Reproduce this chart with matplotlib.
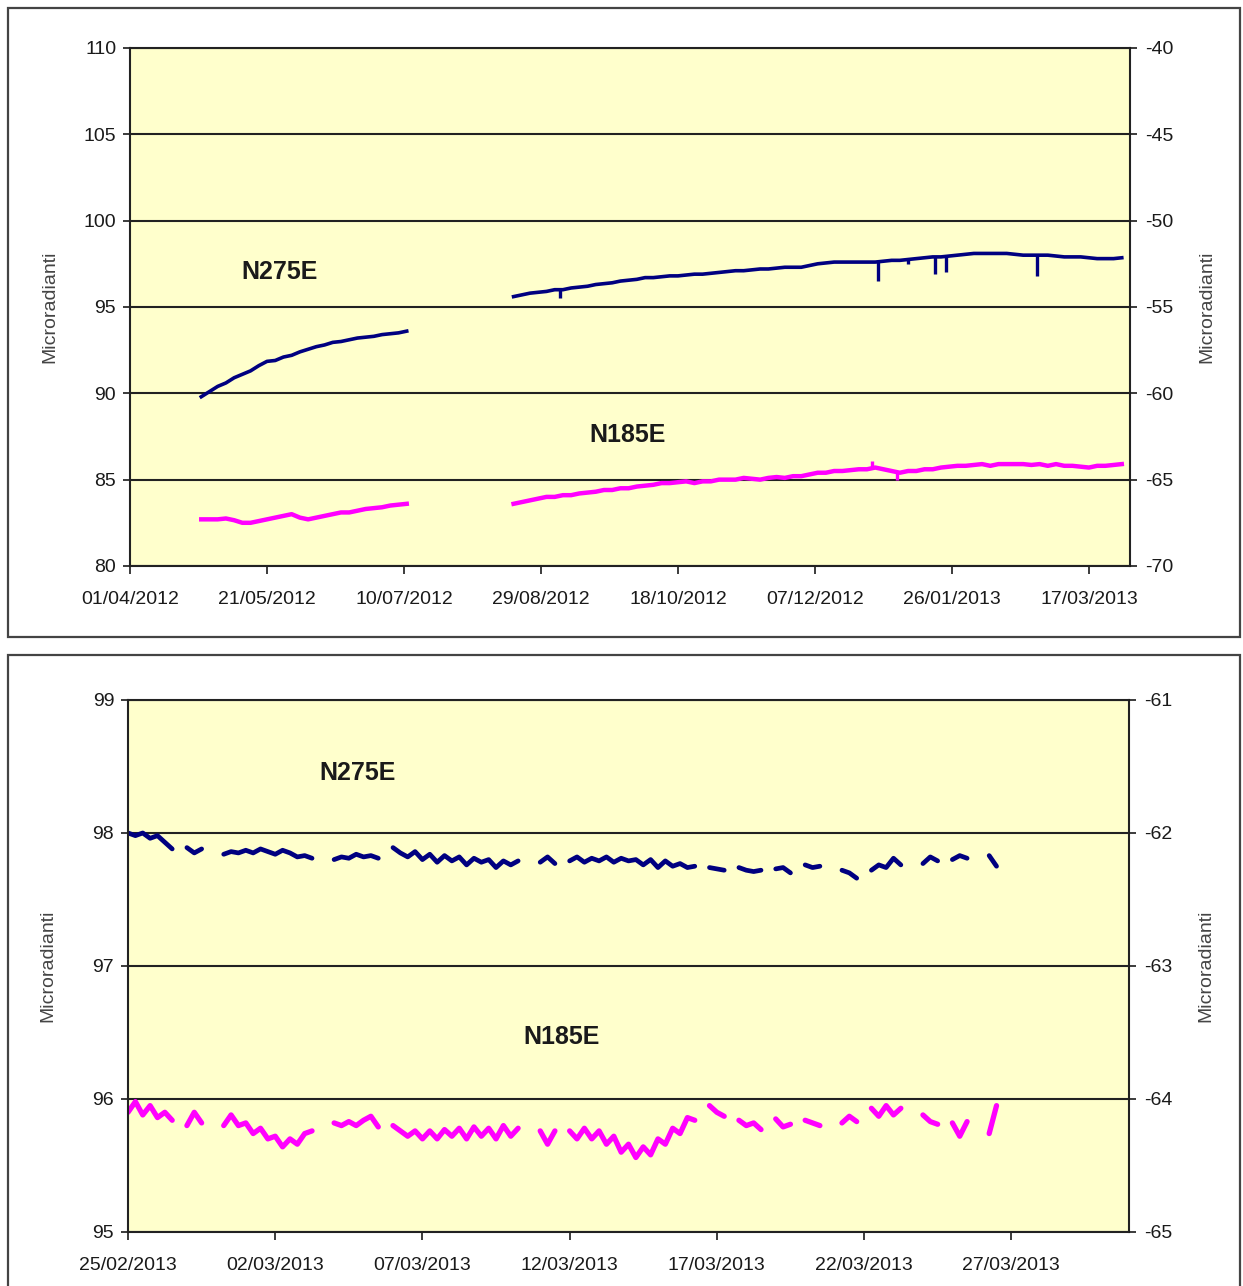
import matplotlib
matplotlib.use("Agg")

import matplotlib.pyplot as plt
import matplotlib.dates as mdates
import numpy as np
import pandas as pd
from matplotlib.patches import Rectangle

plt.rcParams["font.family"] = ["Liberation Sans", "DejaVu Sans"]
plt.rcParams["axes.unicode_minus"] = False

nan = np.nan

# ---- top panel: 01/04/2012 - 01/04/2013, one reading every 3 days ----
top_start = "2012-04-27"
top_n275e = [
    89.8, 90.1, 90.4, 90.6, 90.9, 91.1, 91.3, 91.6, 91.85, 91.9,
    92.1, 92.2, 92.4, 92.55, 92.7, 92.8, 92.95, 93.0, 93.1, 93.2,
    93.25, 93.3, 93.4, 93.45, 93.5, 93.6,
    nan, nan, nan, nan, nan, nan, nan, nan, nan, nan, nan, nan,
    95.6, 95.7, 95.8, 95.85, 95.9, 96.0, 96.0, 96.1, 96.15, 96.2,
    96.3, 96.35, 96.4, 96.5, 96.55, 96.6, 96.7, 96.7, 96.75, 96.8,
    96.8, 96.85, 96.9, 96.9, 96.95, 97.0, 97.05, 97.1, 97.1, 97.15,
    97.2, 97.2, 97.25, 97.3, 97.3, 97.3, 97.4, 97.5, 97.55, 97.6,
    97.6, 97.6, 97.6, 97.6, 97.6, 97.65, 97.7, 97.7, 97.75, 97.8,
    97.85, 97.9, 97.9, 97.95, 98.0, 98.05, 98.1, 98.1, 98.1, 98.1,
    98.1, 98.05, 98.0, 98.0, 98.0, 98.0, 97.95, 97.9, 97.9, 97.9,
    97.85, 97.8, 97.8, 97.8, 97.85,
]
top_n185e = [
    82.7, 82.7, 82.7, 82.75, 82.65, 82.5, 82.5, 82.6, 82.7, 82.8,
    82.9, 83.0, 82.8, 82.7, 82.8, 82.9, 83.0, 83.1, 83.1, 83.2,
    83.3, 83.35, 83.4, 83.5, 83.55, 83.6,
    nan, nan, nan, nan, nan, nan, nan, nan, nan, nan, nan, nan,
    83.6, 83.7, 83.8, 83.9, 84.0, 84.0, 84.1, 84.1, 84.2, 84.25,
    84.3, 84.4, 84.4, 84.5, 84.5, 84.6, 84.65, 84.7, 84.8, 84.8,
    84.85, 84.9, 84.8, 84.9, 84.9, 85.0, 85.0, 85.0, 85.1, 85.05,
    85.0, 85.1, 85.15, 85.1, 85.2, 85.2, 85.3, 85.4, 85.4, 85.5,
    85.5, 85.55, 85.6, 85.6, 85.7, 85.6, 85.5, 85.4, 85.5, 85.5,
    85.6, 85.6, 85.7, 85.75, 85.8, 85.8, 85.85, 85.9, 85.8, 85.9,
    85.9, 85.9, 85.9, 85.85, 85.9, 85.8, 85.9, 85.8, 85.8, 85.75,
    85.7, 85.8, 85.8, 85.85, 85.9,
]
top_spike_dates = ["2012-09-05", "2012-12-30", "2013-01-10", "2013-01-20", "2013-01-24", "2013-02-26"]
top_spike_low = [95.5, 96.5, 97.5, 96.9, 97.0, 96.8]
top_spike_high = [96.0, 97.6, 97.8, 97.9, 97.9, 98.0]
mag_spike_dates = ["2012-12-28", "2013-01-06"]
mag_spike_low = [85.6, 85.0]
mag_spike_high = [86.1, 85.5]
top_ticks = ["01/04/2012", "21/05/2012", "10/07/2012", "29/08/2012",
             "18/10/2012", "07/12/2012", "26/01/2013", "17/03/2013"]

# ---- bottom panel: 25/02/2013 - 31/03/2013, one reading every 6 hours ----
bot_start = "2013-02-25"
bot_n275e = [
    98.00, 97.98, 98.00, 97.96, 97.98, 97.93, 97.88,
    nan,
    97.89, 97.85, 97.88,
    nan, nan,
    97.84, 97.86, 97.85, 97.87, 97.85, 97.88, 97.86, 97.84, 97.87, 97.85, 97.82, 97.83, 97.81,
    nan, nan,
    97.80, 97.82, 97.81, 97.84, 97.82, 97.83, 97.81,
    nan,
    97.89, 97.85, 97.82, 97.86, 97.80, 97.84, 97.78, 97.83, 97.79,
    97.82, 97.76, 97.81, 97.78, 97.80, 97.74, 97.79, 97.76, 97.79,
    nan, nan,
    97.78, 97.82, 97.77,
    nan,
    97.79, 97.82, 97.78, 97.81, 97.79, 97.82, 97.78, 97.81, 97.79,
    97.80, 97.76, 97.80, 97.74, 97.79, 97.75, 97.77, 97.74, 97.75,
    nan,
    97.74, 97.73, 97.72,
    nan,
    97.74, 97.72, 97.71, 97.72,
    nan,
    97.73, 97.74, 97.70,
    nan,
    97.76, 97.74, 97.75,
    nan, nan,
    97.72, 97.70, 97.66,
    nan,
    97.72, 97.76, 97.74, 97.81, 97.76,
    nan, nan,
    97.77, 97.82, 97.79,
    nan,
    97.80, 97.83, 97.81,
    nan, nan,
    97.83, 97.75,
]
bot_n185e = [
    95.90, 95.98, 95.88, 95.95, 95.86, 95.90, 95.84,
    nan,
    95.80, 95.90, 95.82,
    nan, nan,
    95.80, 95.88, 95.80, 95.82, 95.74, 95.78, 95.70, 95.72, 95.64, 95.70, 95.66, 95.74, 95.76,
    nan, nan,
    95.82, 95.80, 95.83, 95.80, 95.84, 95.87, 95.79,
    nan,
    95.80, 95.76, 95.72, 95.76, 95.70, 95.76, 95.70, 95.77, 95.72,
    95.78, 95.70, 95.79, 95.72, 95.78, 95.70, 95.80, 95.72, 95.78,
    nan, nan,
    95.76, 95.66, 95.76,
    nan,
    95.76, 95.70, 95.78, 95.70, 95.76, 95.66, 95.72, 95.60, 95.66,
    95.56, 95.64, 95.58, 95.70, 95.66, 95.78, 95.74, 95.86, 95.84,
    nan,
    95.95, 95.90, 95.87,
    nan,
    95.84, 95.80, 95.82, 95.77,
    nan,
    95.85, 95.79, 95.81,
    nan,
    95.84, 95.82, 95.80,
    nan, nan,
    95.82, 95.87, 95.83,
    nan,
    95.93, 95.87, 95.95, 95.88, 95.93,
    nan, nan,
    95.88, 95.83, 95.81,
    nan,
    95.82, 95.72, 95.83,
    nan, nan,
    95.74, 95.95,
]
bot_ticks = ["25/02/2013", "02/03/2013", "07/03/2013", "12/03/2013",
             "17/03/2013", "22/03/2013", "27/03/2013"]

NAVY = "#000080"
MAGENTA = "#FF00FF"
PLOT_BG = "#FFFFCC"
TXT = "#1a1a1a"


def style_panel(ax, ylim, yticks, ylim2, xlim, ticks):
    ax.set_facecolor(PLOT_BG)
    ax.set_xlim(pd.to_datetime(xlim[0]), pd.to_datetime(xlim[1]))
    ax.set_ylim(*ylim)
    ax.set_yticks(yticks)
    ax.set_xticks(pd.to_datetime(ticks, format="%d/%m/%Y"))
    ax.xaxis.set_major_formatter(mdates.DateFormatter("%d/%m/%Y"))
    ax.yaxis.grid(True, color="#222222", linewidth=1.5)
    ax.set_axisbelow(True)
    for side in ("left", "right", "bottom", "top"):
        ax.spines[side].set_color("#222222")
        ax.spines[side].set_linewidth(1.5)
    ax.tick_params(axis="y", length=5, width=1.2, pad=5, labelsize=14, colors=TXT)
    ax.tick_params(axis="x", length=6, width=1.2, pad=12, labelsize=14, colors=TXT)
    ax.set_ylabel("Microradianti", fontsize=14, color="#444444")
    # same label position in both panels, whatever the tick label widths
    ax.yaxis.set_label_coords(-0.072, 0.5)

    ax2 = ax.twinx()
    ax2.set_ylim(*ylim2)
    ax2.set_yticks(np.linspace(ylim2[0], ylim2[1], len(yticks)))
    ax2.yaxis.set_major_formatter(matplotlib.ticker.FormatStrFormatter("%d"))
    ax2.tick_params(axis="y", length=5, width=1.2, pad=6, labelsize=14, colors=TXT)
    ax2.set_ylabel("Microradianti", fontsize=14, color="#444444")
    ax2.yaxis.set_label_coords(1.068, 0.5)
    for side in ax2.spines:
        ax2.spines[side].set_visible(False)
    return ax2


fig = plt.figure(figsize=(12.43, 12.86), dpi=100)

# panel frames
fig.patches.append(Rectangle((0.0064, 0.5047), 0.9912, 0.4891, transform=fig.transFigure,
                             fill=False, edgecolor="#444444", linewidth=1.6))
fig.patches.append(Rectangle((0.0064, -0.02), 0.9912, 0.5107, transform=fig.transFigure,
                             fill=False, edgecolor="#444444", linewidth=1.6))

# ---- top chart ----
ax_top = fig.add_axes([0.1046, 0.5599, 0.8045, 0.4028])
top_dates = pd.date_range(top_start, periods=len(top_n275e), freq="3D")
ax_top.plot(top_dates, top_n275e, color=NAVY, linewidth=2.6)
ax_top.plot(top_dates, top_n185e, color=MAGENTA, linewidth=3.2)
ax_top.vlines(pd.to_datetime(top_spike_dates), top_spike_low, top_spike_high,
              color=NAVY, linewidth=2.4)
ax_top.vlines(pd.to_datetime(mag_spike_dates), mag_spike_low, mag_spike_high,
              color=MAGENTA, linewidth=2.4)
style_panel(ax_top, (80, 110), np.arange(80, 111, 5), (-70, -40),
            ("2012-04-01", "2013-04-01"), top_ticks)
ax_top.text(0.15, 0.568, "N275E", transform=ax_top.transAxes, ha="center", va="center",
            fontsize=18, fontweight="bold", color=TXT)
ax_top.text(0.498, 0.253, "N185E", transform=ax_top.transAxes, ha="center", va="center",
            fontsize=18, fontweight="bold", color=TXT)

# ---- bottom chart ----
ax_bot = fig.add_axes([0.1030, 0.0420, 0.8053, 0.4137])
bot_dates = pd.date_range(bot_start, periods=len(bot_n275e), freq="6h")
ax_bot.plot(bot_dates, bot_n275e, color=NAVY, linewidth=3.4, solid_capstyle="round")
ax_bot.plot(bot_dates, bot_n185e, color=MAGENTA, linewidth=3.8, solid_capstyle="round")
style_panel(ax_bot, (95, 99), np.arange(95, 100, 1), (-65, -61),
            ("2013-02-25", "2013-03-31"), bot_ticks)
ax_bot.text(0.229, 0.863, "N275E", transform=ax_bot.transAxes, ha="center", va="center",
            fontsize=18, fontweight="bold", color=TXT)
ax_bot.text(0.433, 0.367, "N185E", transform=ax_bot.transAxes, ha="center", va="center",
            fontsize=18, fontweight="bold", color=TXT)

fig.savefig("out.png", dpi=100, facecolor="white")
plt.close(fig)
